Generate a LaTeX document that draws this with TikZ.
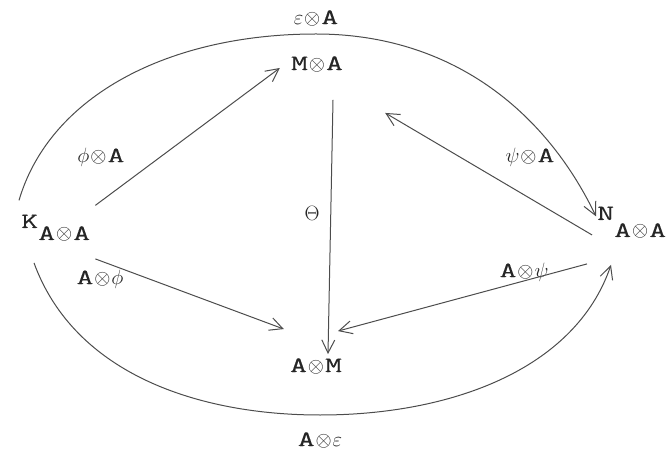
\documentclass[tikz,border=0pt]{standalone}
\usepackage{fontspec}
\newfontfamily\tw[FakeStretch=1.5,FakeBold=0.3]{Latin Modern Mono}
\usetikzlibrary{arrows.meta}
\newcommand\ot{\makebox[18pt]{$\otimes$}}
\begin{document}
\begin{tikzpicture}[x=1pt,y=-1pt,
  lbl/.style={font=\tw\fontsize{22}{24}\selectfont, inner sep=0pt, text=black!85},
  arr/.style={draw=black!70, line width=1pt, -{Straight Barb[length=13pt,width=13pt]}}]
\useasboundingbox (0,0) rectangle (669,454);
\node[lbl, anchor=base west] (K) at (21,228) {K\raisebox{-12pt}{A\ot A}};
\node[lbl, anchor=base west] (N) at (597,220) {N\raisebox{-17pt}{A\ot A}};
\node[lbl] (MA) at (317,64) {M\ot A};
\node[lbl] (AM) at (316,366) {A\ot M};
\node[lbl] (top) at (316,18) {$\varepsilon$\ot A};
\node[lbl] (bot) at (320,440) {A\ot$\varepsilon$};
\node[lbl] (phiA) at (101,157) {$\phi$\ot A};
\node[lbl] (psiA) at (530,157) {$\psi$\ot A};
\node[lbl] (Aphi) at (100,279) {A\ot$\phi$};
\node[lbl] (Apsi) at (524,272) {A\ot$\psi$};
\node[lbl] (th) at (312,213) {$\Theta$};
\draw[arr] ([shift={(5,-9)}]K.north east) -- ([shift={(-11,4)}]MA.west);
\draw[arr] ([shift={(5,17)}]K.south east) -- ([shift={(-6,-29)}]AM.north west);
\draw[arr] ([shift={(16,28)}]MA.south) -- ([shift={(12,-4)}]AM.north);
\draw[arr] ([shift={(-5,-4)}]N.south west) -- ([shift={(42,41)}]MA.south east);
\draw[arr] ([shift={(-10,25)}]N.south west) -- ([shift={(22,-27)}]AM.north);
\draw[arr] ([shift={(-2,-14)}]K.north west) .. controls (50,95) and (170,34) .. ([yshift=-16]top.center)
   .. controls (450,34) and (545,110) .. ([shift={(-1,10)}]N.north west);
\draw[arr] ([shift={(13,21)}]K.south west) .. controls (75,375) and (200,415) .. ([yshift=25]bot.center)
   .. controls (450,415) and (575,370) .. ([shift={(14,26)}]N.south west);
\end{tikzpicture}
\end{document}
